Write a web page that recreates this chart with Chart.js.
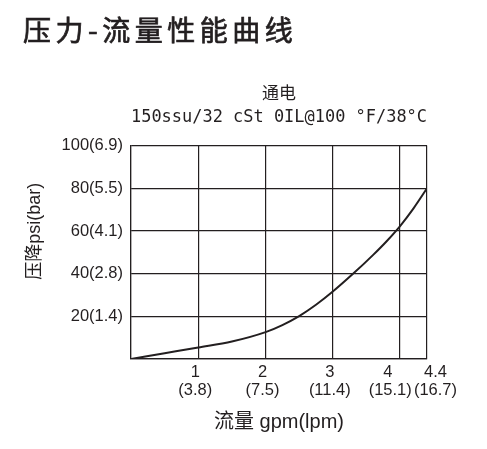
<!DOCTYPE html>
<html><head><meta charset="utf-8">
<script src="https://cdn.jsdelivr.net/npm/chart.js@4"></script>
<style>
html,body{margin:0;padding:0;background:#fff;}
#wrap{position:relative;width:487px;height:449px;}
canvas{position:absolute;left:0;top:0;}
#heading{position:absolute;left:23px;top:12px;margin:0;font-family:"Noto Sans CJK SC",sans-serif;font-weight:normal;font-size:28px;letter-spacing:4.5px;color:#231f20;-webkit-text-stroke:0.7px #231f20;line-height:34px;white-space:nowrap;}
</style></head><body>
<div id="wrap"><canvas id="c" width="487" height="449"></canvas><h1 id="heading">压力-流量性能曲线</h1></div>
<script>
const chartTitle = '通电';
const chartSubtitle = '150ssu/32 cSt 0IL@100 °F/38°C';
const xAxisTitle = '流量 gpm(lpm)';
const yAxisTitle = '压降psi(bar)';

const flowGpm     = [0, 0.5, 1, 1.5, 2, 2.25, 2.5, 2.75, 3, 3.3, 3.6, 3.8, 4.0, 4.2, 4.4];
const pressurePsi = [0, 2.7, 5.4, 8.2, 12.6, 15.9, 20.1, 25.4, 31.6, 39.9, 48.8, 55.2, 62.3, 70.6, 80];

const xTickValues = [0, 1, 2, 3, 4, 4.4];
const xTickGpm    = ['', '1', '2', '3', '4', '4.4'];
const xTickLpm    = ['', '(3.8)', '(7.5)', '(11.4)', '(15.1)', '(16.7)'];
const yTickValues = [0, 20, 40, 60, 80, 100];
const yTickLabels = ['', '20(1.4)', '40(2.8)', '60(4.1)', '80(5.5)', '100(6.9)'];

const ink = '#231f20';
const sansFam = '"Liberation Sans", "Noto Sans CJK SC", sans-serif';

// per-label horizontal nudges (spacing only, as in the reference where the last two labels are pushed apart)
const padLabel = (s, i, line) => {
  if (i === 4) return s + (line === 0 ? '    ' : '   ');
  if (i === 5) return '     ' + s;
  return s;
};

const yTitlePlugin = {
  id: 'yTitle',
  afterDraw(chart) {
    const {ctx, chartArea} = chart;
    ctx.save();
    ctx.font = '18px ' + sansFam;
    ctx.fillStyle = ink;
    ctx.translate(35, (chartArea.top + chartArea.bottom) / 2 - 21);
    ctx.rotate(-Math.PI / 2);
    ctx.textAlign = 'center';
    ctx.textBaseline = 'middle';
    ctx.fillText(yAxisTitle, 0, 0);
    ctx.restore();
  }
};

new Chart(document.getElementById('c'), {
  type: 'scatter',
  data: {
    datasets: [{
      data: flowGpm.map((x, i) => ({x, y: pressurePsi[i]})),
      showLine: true,
      borderColor: ink,
      borderWidth: 2,
      pointRadius: 0,
      cubicInterpolationMode: 'monotone',
      fill: false
    }]
  },
  options: {
    responsive: false,
    animation: false,
    devicePixelRatio: 1,
    layout: {padding: {top: 0, right: 60, bottom: 0, left: 0}},
    plugins: {
      legend: {display: false},
      tooltip: {enabled: false},
      title: {
        display: true, text: chartTitle, fullSize: false, color: ink,
        font: {family: '"Noto Sans CJK SC", sans-serif', size: 17, weight: 'normal'},
        padding: {top: 82, bottom: 2}
      },
      subtitle: {
        display: true, text: chartSubtitle, fullSize: false, color: ink,
        font: {family: '"DejaVu Sans Mono", monospace', size: 17.5, weight: 'normal'},
        padding: {top: 2.4, bottom: 17.8}
      }
    },
    scales: {
      x: {
        type: 'linear', min: 0, max: 4.4,
        afterBuildTicks: s => { s.ticks = xTickValues.map(v => ({value: v})); },
        afterFit: s => { s.height = 90; },
        grid: {color: ink, lineWidth: 1.2, drawTicks: false},
        border: {display: true, color: ink, width: 1.2},
        ticks: {
          autoSkip: false, maxRotation: 0, minRotation: 0, color: ink,
          font: {family: sansFam, size: 16.5, lineHeight: 1.1},
          padding: 4, labelOffset: -3,
          callback: (v, i) => xTickGpm[i] === '' ? '' : [padLabel(xTickGpm[i], i, 0), padLabel(xTickLpm[i], i, 1)]
        },
        title: {display: true, text: xAxisTitle, color: ink,
          font: {family: sansFam, size: 20}, padding: {top: 0, bottom: 15}}
      },
      y: {
        type: 'linear', min: 0, max: 100,
        afterBuildTicks: s => { s.ticks = yTickValues.map(v => ({value: v})); },
        afterFit: s => { s.width = 131; },
        grid: {color: ink, lineWidth: 1.2, drawTicks: false},
        border: {display: true, color: ink, width: 1.2},
        ticks: {
          color: ink, font: {family: sansFam, size: 16.5}, padding: 8,
          callback: (v, i) => yTickLabels[i]
        }
      }
    }
  },
  plugins: [yTitlePlugin]
});
</script>
</body></html>
